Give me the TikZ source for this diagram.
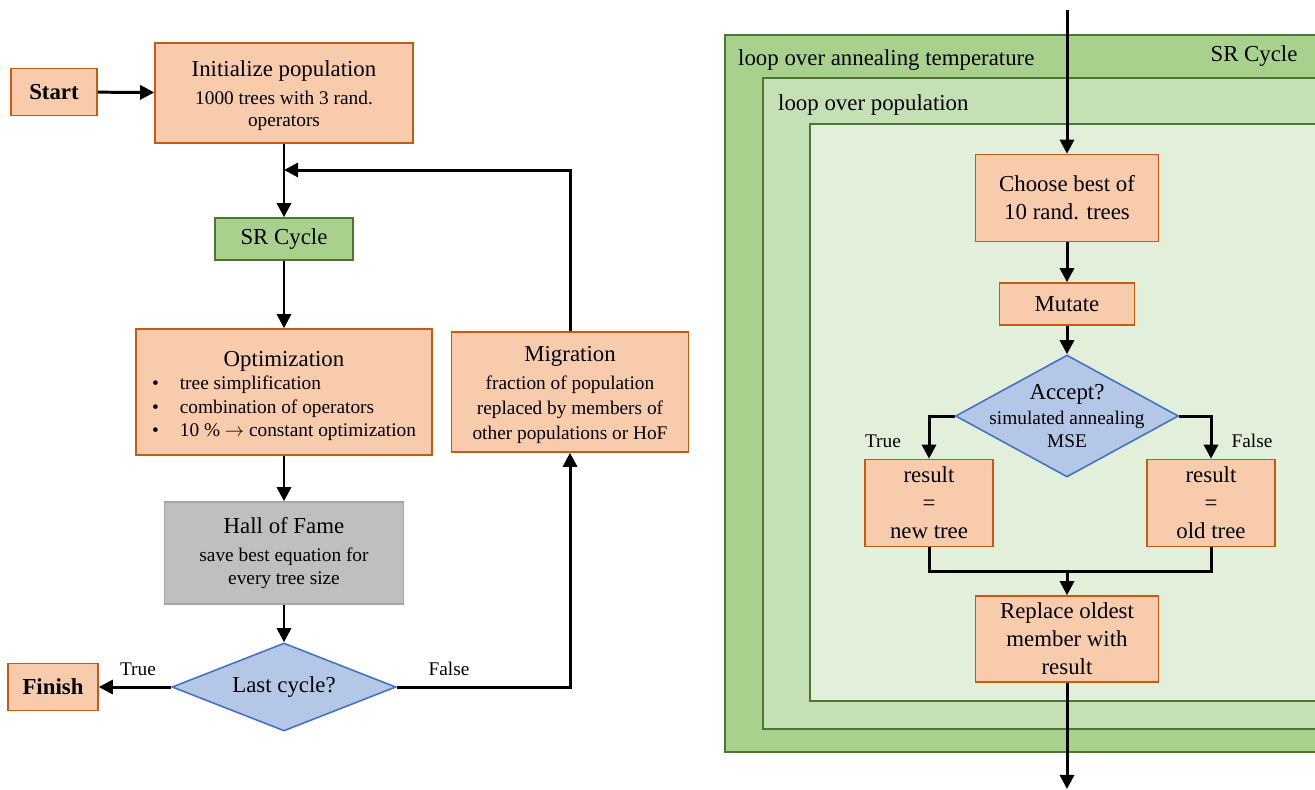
\documentclass[tikz,border=0pt]{standalone}
\usepackage{fontspec}
\setmainfont{Liberation Serif}
\usepackage{xcolor}
\usetikzlibrary{shapes.geometric, arrows.meta, positioning, calc}

\definecolor{boxorange}{HTML}{F8CBAD}
\definecolor{edgeorange}{HTML}{C55A11}
\definecolor{boxgreen}{HTML}{A9D18E}
\definecolor{edgegreen}{HTML}{4E7631}
\definecolor{loopmid}{HTML}{C5E0B4}
\definecolor{loopin}{HTML}{E2EFDA}
\definecolor{boxgray}{HTML}{BFBFBF}
\definecolor{edgegray}{HTML}{A6A6A6}
\definecolor{boxblue}{HTML}{B4C7E7}
\definecolor{edgeblue}{HTML}{4472C4}

\newcommand{\bigtxt}{\fontsize{13}{16}\selectfont}
\newcommand{\smalltxt}{\fontsize{11}{13.5}\selectfont}

\tikzset{
  procbox/.style={draw=edgeorange, fill=boxorange, line width=0.9pt, inner sep=0pt, align=center, font=\bigtxt},
  cyclebox/.style={draw=edgegreen, fill=boxgreen, line width=0.9pt, inner sep=0pt, align=center, font=\bigtxt},
  famebox/.style={draw=edgegray, fill=boxgray, line width=0.9pt, inner sep=0pt, align=center, font=\bigtxt},
  decision/.style={diamond, draw=edgeblue, fill=boxblue, line width=0.9pt, inner sep=0pt},
  loopframe/.style={draw=edgegreen, line width=0.8pt},
  flow/.style={line width=1.7pt, -{Triangle[length=8pt,width=8pt]}},
  link/.style={line width=1.7pt},
  branch/.style={font=\smalltxt}
}

\begin{document}
\begin{tikzpicture}[x=0.02cm, y=-0.02cm]
\useasboundingbox (0,0) rectangle (1315,789);
\clip (0,0) rectangle (1315,789);
% Loop frames
\draw[loopframe, fill=boxgreen] (725,35) rectangle (1340,752);
\draw[loopframe, fill=loopmid] (763,78) rectangle (1340,729);
\draw[loopframe, fill=loopin] (810,124) rectangle (1340,701);
\node[font=\bigtxt, anchor=west] (annealtxt) at (732,60) {loop over annealing temperature};
\node[font=\bigtxt] (cycletxt) at (1254,56) {SR Cycle};
\node[font=\bigtxt, anchor=west] (poptxt) at (772,105) {loop over population};
% Main flow
\node[procbox, minimum width=1.72cm, minimum height=0.94cm] (start) at (54,92) {\textbf{Start}};
\node[procbox, minimum width=5.16cm, minimum height=2cm] (init) at (284,93) {\rule{0pt}{12pt}Initialize population\\\smalltxt 1000 trees with 3 rand.\\[-3.5pt]\smalltxt operators};
\node[cyclebox, minimum width=2.76cm, minimum height=0.84cm] (srcyc) at (284,239) {SR Cycle};
\node[procbox, minimum width=5.92cm, minimum height=2.52cm] (opt) at (284,392) {\rule{0pt}{15pt}Optimization\\\smalltxt
  \begin{tabular}{@{}l@{\hspace{12pt}}l@{}}
  \textbullet & tree simplification\\
  \textbullet & combination of operators\\
  \textbullet & 10~\% $\rightarrow$ constant optimization
  \end{tabular}};
\node[procbox, minimum width=4.74cm, minimum height=2.4cm] (migr) at (570,392) {\rule{0pt}{12pt}Migration\\\smalltxt fraction of population\\[-2pt]\smalltxt replaced by members of\\[-2pt]\smalltxt other populations or HoF};
\node[famebox, minimum width=4.78cm, minimum height=2.04cm] (hof) at (284,553) {Hall of Fame\\\smalltxt save best equation for\\[-2.5pt]\smalltxt every tree size};
\node[decision, aspect=2.5, minimum width=4.48cm, minimum height=1.76cm, font=\bigtxt] (last) at (284,687) {Last cycle?};
\node[procbox, minimum width=1.8cm, minimum height=0.94cm] (finish) at (53,687) {\textbf{Finish}};
\coordinate (loopjoin) at (284,170);
% SR cycle detail
\node[procbox, minimum width=3.66cm, minimum height=1.74cm] (choose) at (1067,198) {Choose best of\\10 rand. trees};
\node[procbox, minimum width=2.7cm, minimum height=0.84cm] (mutate) at (1067,304) {Mutate};
\node[decision, minimum width=4.46cm, minimum height=2.44cm] (accept) at (1067,416) {};
\node[align=center, font=\bigtxt, inner sep=0pt] (accepttxt) at (1067,416) {Accept?\\[-1.5pt]\smalltxt simulated annealing\\[-3pt]\smalltxt MSE};
\node[procbox, minimum width=2.56cm, minimum height=1.74cm] (resnew) at (929,503) {result\\=\\new tree};
\node[procbox, minimum width=2.56cm, minimum height=1.74cm] (resold) at (1211,503) {result\\=\\old tree};
\node[procbox, minimum width=3.66cm, minimum height=1.72cm] (replace) at (1067,639) {Replace oldest\\member with\\result};
\coordinate (feedin) at (1067,10);
\coordinate (merge) at (1067,571);
\coordinate (feedout) at (1067,789);
% Connectors
\draw[flow] (start) -- (init);
\draw[flow] (init) -- (srcyc);
\draw[flow] (srcyc) -- (opt);
\draw[flow] (opt) -- (hof);
\draw[flow] (hof) -- (last);
\draw[flow] (last) -- (finish);
\draw[flow] (last.east) -| (migr.south);
\draw[flow] (migr.north) |- (loopjoin);
\node[branch] (truel) at (138,669) {True};
\node[branch] (falsel) at (449,669) {False};
\draw[flow] (feedin) -- (choose.north);
\draw[flow] (choose) -- (mutate);
\draw[flow] (mutate) -- (accept.north);
\draw[flow] (accept.west) -| (resnew.north);
\draw[flow] (accept.east) -| (resold.north);
\draw[link] (resnew.south) |- (merge) -| (resold.south);
\draw[flow] (merge) -- (replace.north);
\draw[flow] (replace.south) -- (feedout);
\node[branch] (truer) at (883,441) {True};
\node[branch] (falser) at (1252,441) {False};
\end{tikzpicture}
\end{document}
